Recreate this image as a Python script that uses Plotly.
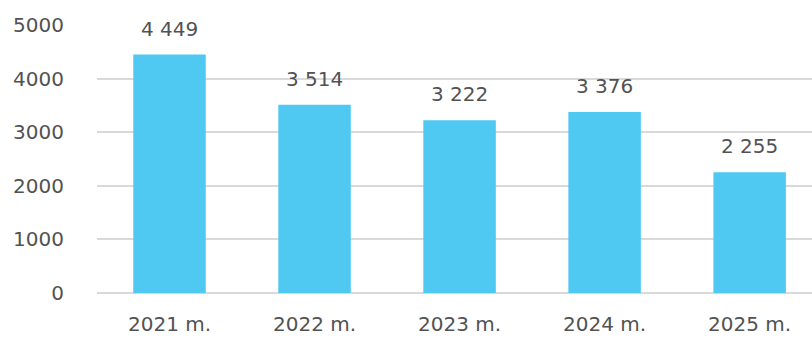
import plotly.graph_objects as go

years = ["2021 m.", "2022 m.", "2023 m.", "2024 m.", "2025 m."]
values = [4449, 3514, 3222, 3376, 2255]
y_ticks = [0, 1000, 2000, 3000, 4000, 5000]

bar_color = "#4FC9F2"
text_color = "#525252"
grid_color = "#D9D9D9"
font_family = "DejaVu Sans, Verdana, sans-serif"


def fmt(v):
    return f"{v:,}".replace(",", " ")


fig = go.Figure(
    go.Bar(
        x=years,
        y=values,
        width=0.5,
        marker=dict(color=bar_color, line=dict(width=0)),
        hoverinfo="skip",
    )
)

for yr, v in zip(years, values):
    fig.add_annotation(
        x=yr, y=v, text=fmt(v), showarrow=False,
        yanchor="middle", yshift=26,
        font=dict(family=font_family, size=20, color=text_color),
    )

fig.update_layout(
    width=812, height=338,
    margin=dict(l=97, r=0, t=25, b=45),
    paper_bgcolor="white", plot_bgcolor="white",
    showlegend=False,
    font=dict(family=font_family, size=20, color=text_color),
    xaxis=dict(
        range=[-0.5, 4.43], showgrid=False, showline=False, zeroline=False,
        ticks="", tickfont=dict(size=20, color=text_color),
        ticklabelstandoff=17,
    ),
    yaxis=dict(
        range=[0, 5000], tickvals=y_ticks, ticktext=[str(t) for t in y_ticks],
        showgrid=True, gridcolor=grid_color, gridwidth=2,
        zeroline=True, zerolinecolor=grid_color, zerolinewidth=2,
        showline=False, ticks="", tickfont=dict(size=20, color=text_color),
        ticklabelstandoff=32,
    ),
)

fig.write_html("out.html")
